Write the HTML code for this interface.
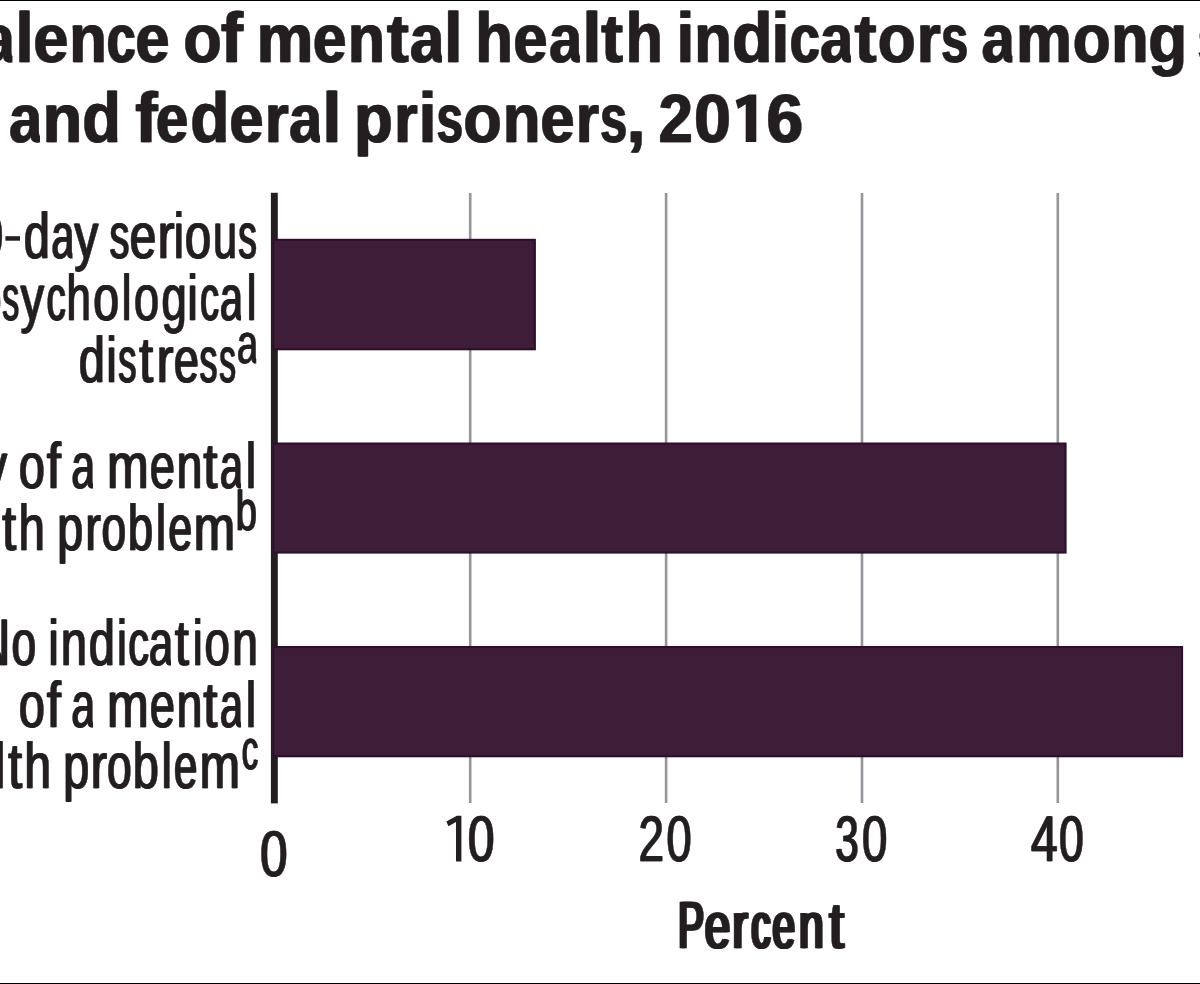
<!DOCTYPE html>
<html><head><meta charset="utf-8"><title>Prevalence of mental health indicators among state and federal prisoners, 2016</title>
<style>
html,body{margin:0;padding:0;background:#fff;overflow:hidden}
body{width:1200px;height:984px;font-family:"Liberation Sans",sans-serif}
svg{display:block;position:absolute;left:0;top:0;will-change:transform}
text{text-rendering:geometricPrecision;font-family:"Liberation Sans",sans-serif;fill:#231f20;stroke:#231f20;stroke-linejoin:round;font-kerning:none;white-space:pre}
.title{font-weight:bold;font-size:68.5px;stroke-width:0.4px}
.lab{font-weight:normal;font-size:64.5px;stroke-width:0.6px}
.tick{font-weight:normal;font-size:64.5px;stroke-width:0.6px}
.pct{font-weight:normal;font-size:65.5px;stroke-width:0.7px}
.sup{font-weight:normal;font-size:56.0px;stroke-width:0.5px}
</style></head>
<body>
<svg width="1200" height="984" viewBox="0 0 1200 984">
<rect x="0" y="0" width="1200" height="984" fill="#fff"/>
<!-- gridlines -->
<g fill="#939598">
<rect x="468.9" y="193" width="2.6" height="610"/>
<rect x="664.8" y="193" width="2.6" height="610"/>
<rect x="860.7" y="193" width="2.6" height="610"/>
<rect x="1056.5" y="193" width="2.6" height="610"/>
</g>
<!-- axis -->
<rect x="270.9" y="192.8" width="6.9" height="610.6" fill="#231f20"/>
<!-- bars -->
<g fill="#2f0e2d">
<rect x="273" y="238.8" width="262.9" height="111.5"/>
<rect x="273" y="442.5" width="793.6" height="111.1"/>
<rect x="273" y="646" width="910.1" height="111.3"/>
</g>
<g fill="#3d1d38">
<rect x="274.2" y="240.9" width="259.6" height="107.3"/>
<rect x="274.2" y="444.6" width="790.3" height="106.9"/>
<rect x="274.2" y="648.1" width="906.8" height="107.1"/>
</g>
<!-- frame lines -->
<rect x="0" y="0" width="1200" height="1" fill="#000"/>
<rect x="0" y="983" width="1200" height="1" fill="#000"/>
<!-- custom numeral 1 glyphs -->
<path d="M756.3,94.4 L756.3,142 L745.7,142 L745.7,104.2 L738,108.9 L735.6,100.3 L749,94.4 Z" fill="#231f20"/>
<path d="M461.4,815.7 L461.4,861.6 L456,861.6 L456,822 L448.4,826.3 L446.4,821.6 L456.9,815.7 Z" fill="#231f20"/>
<rect x="5.4" y="236.2" width="14.6" height="4.5" fill="#231f20"/>
<g>
<defs><clipPath id="ca-title"><rect x="-20" y="-100" width="54.79" height="140"/></clipPath><clipPath id="ca-lab"><rect x="-20" y="-100" width="51.91" height="140"/></clipPath><clipPath id="ca-sup"><rect x="-20" y="-100" width="47.69" height="140"/></clipPath></defs>
<g class="title">
<text clip-path="url(#ca-title)" transform="translate(-19.11,62.30) scale(0.868,1)">a</text>
<text clip-path="url(#ca-title)" transform="translate(-17.71,62.30) scale(0.868,1)">a</text>
<text transform="translate(14.63,62.30) scale(0.960,1.035)">l</text>
<text transform="translate(16.03,62.30) scale(0.960,1.035)">l</text>
<text transform="translate(32.66,62.30) scale(0.919,1)">e</text>
<text transform="translate(34.06,62.30) scale(0.919,1)">e</text>
<text transform="translate(68.69,62.30) scale(0.895,1)">n</text>
<text transform="translate(70.09,62.30) scale(0.895,1)">n</text>
<text transform="translate(106.07,62.30) scale(0.761,1)">c</text>
<text transform="translate(107.47,62.30) scale(0.761,1)">c</text>
<text transform="translate(134.74,62.30) scale(0.889,1)">e</text>
<text transform="translate(136.14,62.30) scale(0.889,1)">e</text>
<text transform="translate(182.67,62.30) scale(0.915,1)">o</text>
<text transform="translate(184.07,62.30) scale(0.915,1)">o</text>
<text transform="translate(220.29,62.30) scale(0.960,1.035)">f</text>
<text transform="translate(221.69,62.30) scale(0.960,1.035)">f</text>
<text transform="translate(256.06,62.30) scale(0.926,1)">m</text>
<text transform="translate(257.46,62.30) scale(0.926,1)">m</text>
<text transform="translate(312.28,62.30) scale(0.874,1)">e</text>
<text transform="translate(313.68,62.30) scale(0.874,1)">e</text>
<text transform="translate(347.26,62.30) scale(0.880,1)">n</text>
<text transform="translate(348.66,62.30) scale(0.880,1)">n</text>
<text transform="translate(386.20,62.30) scale(0.960,1)">t</text>
<text transform="translate(387.60,62.30) scale(0.960,1)">t</text>
<text clip-path="url(#ca-title)" transform="translate(409.33,62.30) scale(0.899,1)">a</text>
<text clip-path="url(#ca-title)" transform="translate(410.73,62.30) scale(0.899,1)">a</text>
<text transform="translate(443.38,62.30) scale(0.960,1.035)">l</text>
<text transform="translate(444.78,62.30) scale(0.960,1.035)">l</text>
<text transform="translate(474.63,62.30) scale(0.897,1.035)">h</text>
<text transform="translate(476.03,62.30) scale(0.897,1.035)">h</text>
<text transform="translate(512.74,62.30) scale(0.889,1)">e</text>
<text transform="translate(514.14,62.30) scale(0.889,1)">e</text>
<text clip-path="url(#ca-title)" transform="translate(548.39,62.30) scale(0.868,1)">a</text>
<text clip-path="url(#ca-title)" transform="translate(549.79,62.30) scale(0.868,1)">a</text>
<text transform="translate(582.01,62.30) scale(0.960,1.035)">l</text>
<text transform="translate(583.41,62.30) scale(0.960,1.035)">l</text>
<text transform="translate(600.45,62.30) scale(0.960,1)">t</text>
<text transform="translate(601.85,62.30) scale(0.960,1)">t</text>
<text transform="translate(624.91,62.30) scale(0.889,1.035)">h</text>
<text transform="translate(626.31,62.30) scale(0.889,1.035)">h</text>
<text transform="translate(675.96,62.30) scale(0.912,1.035)">i</text>
<text transform="translate(677.36,62.30) scale(0.912,1.035)">i</text>
<text transform="translate(693.69,62.30) scale(0.895,1)">n</text>
<text transform="translate(695.09,62.30) scale(0.895,1)">n</text>
<text transform="translate(731.57,62.30) scale(0.960,1.035)">d</text>
<text transform="translate(732.97,62.30) scale(0.960,1.035)">d</text>
<text transform="translate(770.96,62.30) scale(0.912,1.035)">i</text>
<text transform="translate(772.36,62.30) scale(0.912,1.035)">i</text>
<text transform="translate(788.99,62.30) scale(0.791,1)">c</text>
<text transform="translate(790.39,62.30) scale(0.791,1)">c</text>
<text clip-path="url(#ca-title)" transform="translate(819.39,62.30) scale(0.868,1)">a</text>
<text clip-path="url(#ca-title)" transform="translate(820.79,62.30) scale(0.868,1)">a</text>
<text transform="translate(853.95,62.30) scale(0.960,1)">t</text>
<text transform="translate(855.35,62.30) scale(0.960,1)">t</text>
<text transform="translate(877.21,62.30) scale(0.902,1)">o</text>
<text transform="translate(878.61,62.30) scale(0.902,1)">o</text>
<text transform="translate(916.25,62.30) scale(0.883,1)">r</text>
<text transform="translate(917.65,62.30) scale(0.883,1)">r</text>
<text transform="translate(940.44,62.30) scale(0.709,1)">s</text>
<text transform="translate(941.84,62.30) scale(0.709,1)">s</text>
<text clip-path="url(#ca-title)" transform="translate(980.89,62.30) scale(0.868,1)">a</text>
<text clip-path="url(#ca-title)" transform="translate(982.29,62.30) scale(0.868,1)">a</text>
<text transform="translate(1015.62,62.30) scale(0.912,1)">m</text>
<text transform="translate(1017.02,62.30) scale(0.912,1)">m</text>
<text transform="translate(1072.23,62.30) scale(0.895,1)">o</text>
<text transform="translate(1073.63,62.30) scale(0.895,1)">o</text>
<text transform="translate(1110.76,62.30) scale(0.880,1)">n</text>
<text transform="translate(1112.16,62.30) scale(0.880,1)">n</text>
<text transform="translate(1147.65,62.30) scale(0.924,1)">g</text>
<text transform="translate(1149.05,62.30) scale(0.924,1)">g</text>
<text transform="translate(1197.04,62.30) scale(0.709,1)">s</text>
<text transform="translate(1198.44,62.30) scale(0.709,1)">s</text>
<text clip-path="url(#ca-title)" transform="translate(8.39,141.80) scale(0.868,1)">a</text>
<text clip-path="url(#ca-title)" transform="translate(9.79,141.80) scale(0.868,1)">a</text>
<text transform="translate(42.00,141.80) scale(0.940,1)">n</text>
<text transform="translate(43.40,141.80) scale(0.940,1)">n</text>
<text transform="translate(81.67,141.80) scale(0.917,1.035)">d</text>
<text transform="translate(83.07,141.80) scale(0.917,1.035)">d</text>
<text transform="translate(134.79,141.80) scale(0.960,1.035)">f</text>
<text transform="translate(136.19,141.80) scale(0.960,1.035)">f</text>
<text transform="translate(155.36,141.80) scale(0.844,1)">e</text>
<text transform="translate(156.76,141.80) scale(0.844,1)">e</text>
<text transform="translate(189.63,141.80) scale(0.932,1.035)">d</text>
<text transform="translate(191.03,141.80) scale(0.932,1.035)">d</text>
<text transform="translate(228.74,141.80) scale(0.889,1)">e</text>
<text transform="translate(230.14,141.80) scale(0.889,1)">e</text>
<text transform="translate(264.25,141.80) scale(0.883,1)">r</text>
<text transform="translate(265.65,141.80) scale(0.883,1)">r</text>
<text clip-path="url(#ca-title)" transform="translate(288.39,141.80) scale(0.868,1)">a</text>
<text clip-path="url(#ca-title)" transform="translate(289.79,141.80) scale(0.868,1)">a</text>
<text transform="translate(322.01,141.80) scale(0.960,1.035)">l</text>
<text transform="translate(323.41,141.80) scale(0.960,1.035)">l</text>
<text transform="translate(353.60,141.80) scale(0.917,1)">p</text>
<text transform="translate(355.00,141.80) scale(0.917,1)">p</text>
<text transform="translate(393.84,141.80) scale(0.860,1)">r</text>
<text transform="translate(395.24,141.80) scale(0.860,1)">r</text>
<text transform="translate(418.21,141.80) scale(0.912,1.035)">i</text>
<text transform="translate(419.61,141.80) scale(0.912,1.035)">i</text>
<text transform="translate(435.97,141.80) scale(0.694,1)">s</text>
<text transform="translate(437.37,141.80) scale(0.694,1)">s</text>
<text transform="translate(462.67,141.80) scale(0.915,1)">o</text>
<text transform="translate(464.07,141.80) scale(0.915,1)">o</text>
<text transform="translate(502.19,141.80) scale(0.895,1)">n</text>
<text transform="translate(503.59,141.80) scale(0.895,1)">n</text>
<text transform="translate(539.74,141.80) scale(0.889,1)">e</text>
<text transform="translate(541.14,141.80) scale(0.889,1)">e</text>
<text transform="translate(575.34,141.80) scale(0.860,1)">r</text>
<text transform="translate(576.74,141.80) scale(0.860,1)">r</text>
<text transform="translate(599.44,141.80) scale(0.709,1)">s</text>
<text transform="translate(600.84,141.80) scale(0.709,1)">s</text>
<text transform="translate(626.34,141.80) scale(0.960,1)">,</text>
<text transform="translate(627.74,141.80) scale(0.960,1)">,</text>
<text transform="translate(658.05,141.80) scale(0.889,1)">2</text>
<text transform="translate(659.45,141.80) scale(0.889,1)">2</text>
<text transform="translate(693.56,141.80) scale(0.959,1)">0</text>
<text transform="translate(694.96,141.80) scale(0.959,1)">0</text>
<text transform="translate(765.80,141.80) scale(0.960,1)">6</text>
<text transform="translate(767.20,141.80) scale(0.960,1)">6</text>
</g>
<g class="lab">
<text transform="translate(-24.74,257.70) scale(0.762,1)">0</text>
<text transform="translate(-23.54,257.70) scale(0.762,1)">0</text>
<text transform="translate(23.36,257.70) scale(0.719,1)">d</text>
<text transform="translate(24.56,257.70) scale(0.719,1)">d</text>
<text clip-path="url(#ca-lab)" transform="translate(50.83,257.70) scale(0.642,1)">a</text>
<text clip-path="url(#ca-lab)" transform="translate(52.03,257.70) scale(0.642,1)">a</text>
<text transform="translate(73.73,257.70) scale(0.739,1)">y</text>
<text transform="translate(74.93,257.70) scale(0.739,1)">y</text>
<text transform="translate(109.00,257.70) scale(0.612,1)">s</text>
<text transform="translate(110.20,257.70) scale(0.612,1)">s</text>
<text transform="translate(129.06,257.70) scale(0.745,1)">e</text>
<text transform="translate(130.26,257.70) scale(0.745,1)">e</text>
<text transform="translate(157.09,257.70) scale(0.780,1)">r</text>
<text transform="translate(158.29,257.70) scale(0.780,1)">r</text>
<text transform="translate(173.28,257.70) scale(0.687,1)">i</text>
<text transform="translate(174.48,257.70) scale(0.687,1)">i</text>
<text transform="translate(184.34,257.70) scale(0.730,1)">o</text>
<text transform="translate(185.54,257.70) scale(0.730,1)">o</text>
<text transform="translate(212.39,257.70) scale(0.671,1)">u</text>
<text transform="translate(213.59,257.70) scale(0.671,1)">u</text>
<text transform="translate(237.82,257.70) scale(0.569,1)">s</text>
<text transform="translate(239.02,257.70) scale(0.569,1)">s</text>
<text transform="translate(-26.94,319.70) scale(0.780,1)">p</text>
<text transform="translate(-25.74,319.70) scale(0.780,1)">p</text>
<text transform="translate(1.64,319.70) scale(0.525,1)">s</text>
<text transform="translate(2.84,319.70) scale(0.525,1)">s</text>
<text transform="translate(19.98,319.70) scale(0.723,1)">y</text>
<text transform="translate(21.18,319.70) scale(0.723,1)">y</text>
<text transform="translate(45.96,319.70) scale(0.593,1)">c</text>
<text transform="translate(47.16,319.70) scale(0.593,1)">c</text>
<text transform="translate(65.89,319.70) scale(0.679,1)">h</text>
<text transform="translate(67.09,319.70) scale(0.679,1)">h</text>
<text transform="translate(92.87,319.70) scale(0.714,1)">o</text>
<text transform="translate(94.07,319.70) scale(0.714,1)">o</text>
<text transform="translate(121.14,319.70) scale(0.671,1)">l</text>
<text transform="translate(122.34,319.70) scale(0.671,1)">l</text>
<text transform="translate(133.41,319.70) scale(0.698,1)">o</text>
<text transform="translate(134.61,319.70) scale(0.698,1)">o</text>
<text transform="translate(160.90,319.70) scale(0.702,1)">g</text>
<text transform="translate(162.10,319.70) scale(0.702,1)">g</text>
<text transform="translate(187.03,319.70) scale(0.687,1)">i</text>
<text transform="translate(188.23,319.70) scale(0.687,1)">i</text>
<text transform="translate(199.48,319.70) scale(0.584,1)">c</text>
<text transform="translate(200.68,319.70) scale(0.584,1)">c</text>
<text clip-path="url(#ca-lab)" transform="translate(219.33,319.70) scale(0.642,1)">a</text>
<text clip-path="url(#ca-lab)" transform="translate(220.53,319.70) scale(0.642,1)">a</text>
<text transform="translate(246.14,319.70) scale(0.671,1)">l</text>
<text transform="translate(247.34,319.70) scale(0.671,1)">l</text>
<text transform="translate(78.36,381.70) scale(0.719,1)">d</text>
<text transform="translate(79.56,381.70) scale(0.719,1)">d</text>
<text transform="translate(106.03,381.70) scale(0.687,1)">i</text>
<text transform="translate(107.23,381.70) scale(0.687,1)">i</text>
<text transform="translate(117.83,381.70) scale(0.560,1)">s</text>
<text transform="translate(119.03,381.70) scale(0.560,1)">s</text>
<text transform="translate(138.48,381.70) scale(0.780,1)">t</text>
<text transform="translate(139.68,381.70) scale(0.780,1)">t</text>
<text transform="translate(156.09,381.70) scale(0.780,1)">r</text>
<text transform="translate(157.29,381.70) scale(0.780,1)">r</text>
<text transform="translate(173.19,381.70) scale(0.696,1)">e</text>
<text transform="translate(174.39,381.70) scale(0.696,1)">e</text>
<text transform="translate(199.10,381.70) scale(0.551,1)">s</text>
<text transform="translate(200.30,381.70) scale(0.551,1)">s</text>
<text transform="translate(218.66,381.70) scale(0.516,1)">s</text>
<text transform="translate(219.86,381.70) scale(0.516,1)">s</text>
</g>
<g class="sup">
<text clip-path="url(#ca-sup)" transform="translate(236.46,362.55) scale(0.679,1)">a</text>
<text clip-path="url(#ca-sup)" transform="translate(237.46,362.55) scale(0.679,1)">a</text>
</g>
<g class="lab">
<text transform="translate(-17.02,488.45) scale(0.723,1)">y</text>
<text transform="translate(-15.82,488.45) scale(0.723,1)">y</text>
<text transform="translate(18.35,488.45) scale(0.722,1)">o</text>
<text transform="translate(19.55,488.45) scale(0.722,1)">o</text>
<text transform="translate(46.35,488.45) scale(0.780,1)">f</text>
<text transform="translate(47.55,488.45) scale(0.780,1)">f</text>
<text clip-path="url(#ca-lab)" transform="translate(70.79,488.45) scale(0.659,1)">a</text>
<text clip-path="url(#ca-lab)" transform="translate(71.99,488.45) scale(0.659,1)">a</text>
<text transform="translate(106.50,488.45) scale(0.772,1)">m</text>
<text transform="translate(107.70,488.45) scale(0.772,1)">m</text>
<text transform="translate(149.17,488.45) scale(0.704,1)">e</text>
<text transform="translate(150.37,488.45) scale(0.704,1)">e</text>
<text transform="translate(175.96,488.45) scale(0.716,1)">n</text>
<text transform="translate(177.16,488.45) scale(0.716,1)">n</text>
<text transform="translate(202.73,488.45) scale(0.780,1)">t</text>
<text transform="translate(203.93,488.45) scale(0.780,1)">t</text>
<text clip-path="url(#ca-lab)" transform="translate(219.33,488.45) scale(0.642,1)">a</text>
<text clip-path="url(#ca-lab)" transform="translate(220.53,488.45) scale(0.642,1)">a</text>
<text transform="translate(245.23,488.45) scale(0.710,1)">l</text>
<text transform="translate(246.43,488.45) scale(0.710,1)">l</text>
<text transform="translate(1.48,550.45) scale(0.780,1)">t</text>
<text transform="translate(2.68,550.45) scale(0.780,1)">t</text>
<text transform="translate(17.91,550.45) scale(0.733,1)">h</text>
<text transform="translate(19.11,550.45) scale(0.733,1)">h</text>
<text transform="translate(56.70,550.45) scale(0.719,1)">p</text>
<text transform="translate(57.90,550.45) scale(0.719,1)">p</text>
<text transform="translate(84.64,550.45) scale(0.735,1)">r</text>
<text transform="translate(85.84,550.45) scale(0.735,1)">r</text>
<text transform="translate(100.95,550.45) scale(0.682,1)">o</text>
<text transform="translate(102.15,550.45) scale(0.682,1)">o</text>
<text transform="translate(127.27,550.45) scale(0.702,1)">b</text>
<text transform="translate(128.47,550.45) scale(0.702,1)">b</text>
<text transform="translate(155.23,550.45) scale(0.710,1)">l</text>
<text transform="translate(156.43,550.45) scale(0.710,1)">l</text>
<text transform="translate(167.77,550.45) scale(0.664,1)">e</text>
<text transform="translate(168.97,550.45) scale(0.664,1)">e</text>
<text transform="translate(193.00,550.45) scale(0.772,1)">m</text>
<text transform="translate(194.20,550.45) scale(0.772,1)">m</text>
</g>
<g class="sup">
<text transform="translate(235.19,530.25) scale(0.681,1)">b</text>
<text transform="translate(236.19,530.25) scale(0.681,1)">b</text>
</g>
<g class="lab">
<text transform="translate(-26.46,664.70) scale(0.780,1.020)">N</text>
<text transform="translate(-25.26,664.70) scale(0.780,1.020)">N</text>
<text transform="translate(10.95,664.70) scale(0.682,1)">o</text>
<text transform="translate(12.15,664.70) scale(0.682,1)">o</text>
<text transform="translate(48.03,664.70) scale(0.687,1)">i</text>
<text transform="translate(49.23,664.70) scale(0.687,1)">i</text>
<text transform="translate(60.18,664.70) scale(0.725,1)">n</text>
<text transform="translate(61.38,664.70) scale(0.725,1)">n</text>
<text transform="translate(88.36,664.70) scale(0.719,1)">d</text>
<text transform="translate(89.56,664.70) scale(0.719,1)">d</text>
<text transform="translate(116.40,664.70) scale(0.687,1)">i</text>
<text transform="translate(117.60,664.70) scale(0.687,1)">i</text>
<text transform="translate(127.84,664.70) scale(0.637,1)">c</text>
<text transform="translate(129.04,664.70) scale(0.637,1)">c</text>
<text clip-path="url(#ca-lab)" transform="translate(148.24,664.70) scale(0.676,1)">a</text>
<text clip-path="url(#ca-lab)" transform="translate(149.44,664.70) scale(0.676,1)">a</text>
<text transform="translate(174.36,664.70) scale(0.780,1)">t</text>
<text transform="translate(175.56,664.70) scale(0.780,1)">t</text>
<text transform="translate(192.15,664.70) scale(0.687,1)">i</text>
<text transform="translate(193.35,664.70) scale(0.687,1)">i</text>
<text transform="translate(203.89,664.70) scale(0.706,1)">o</text>
<text transform="translate(205.09,664.70) scale(0.706,1)">o</text>
<text transform="translate(231.75,664.70) scale(0.707,1)">n</text>
<text transform="translate(232.95,664.70) scale(0.707,1)">n</text>
<text transform="translate(18.35,726.70) scale(0.722,1)">o</text>
<text transform="translate(19.55,726.70) scale(0.722,1)">o</text>
<text transform="translate(46.35,726.70) scale(0.780,1)">f</text>
<text transform="translate(47.55,726.70) scale(0.780,1)">f</text>
<text clip-path="url(#ca-lab)" transform="translate(70.79,726.70) scale(0.659,1)">a</text>
<text clip-path="url(#ca-lab)" transform="translate(71.99,726.70) scale(0.659,1)">a</text>
<text transform="translate(106.50,726.70) scale(0.772,1)">m</text>
<text transform="translate(107.70,726.70) scale(0.772,1)">m</text>
<text transform="translate(149.17,726.70) scale(0.704,1)">e</text>
<text transform="translate(150.37,726.70) scale(0.704,1)">e</text>
<text transform="translate(175.96,726.70) scale(0.716,1)">n</text>
<text transform="translate(177.16,726.70) scale(0.716,1)">n</text>
<text transform="translate(202.73,726.70) scale(0.780,1)">t</text>
<text transform="translate(203.93,726.70) scale(0.780,1)">t</text>
<text clip-path="url(#ca-lab)" transform="translate(219.33,726.70) scale(0.642,1)">a</text>
<text clip-path="url(#ca-lab)" transform="translate(220.53,726.70) scale(0.642,1)">a</text>
<text transform="translate(245.23,726.70) scale(0.710,1)">l</text>
<text transform="translate(246.43,726.70) scale(0.710,1)">l</text>
<text transform="translate(-5.11,788.45) scale(0.671,1)">l</text>
<text transform="translate(-3.91,788.45) scale(0.671,1)">l</text>
<text transform="translate(7.48,788.45) scale(0.780,1)">t</text>
<text transform="translate(8.68,788.45) scale(0.780,1)">t</text>
<text transform="translate(23.87,788.45) scale(0.742,1)">h</text>
<text transform="translate(25.07,788.45) scale(0.742,1)">h</text>
<text transform="translate(62.70,788.45) scale(0.719,1)">p</text>
<text transform="translate(63.90,788.45) scale(0.719,1)">p</text>
<text transform="translate(90.02,788.45) scale(0.765,1)">r</text>
<text transform="translate(91.22,788.45) scale(0.765,1)">r</text>
<text transform="translate(106.45,788.45) scale(0.682,1)">o</text>
<text transform="translate(107.65,788.45) scale(0.682,1)">o</text>
<text transform="translate(132.20,788.45) scale(0.719,1)">b</text>
<text transform="translate(133.40,788.45) scale(0.719,1)">b</text>
<text transform="translate(160.98,788.45) scale(0.710,1)">l</text>
<text transform="translate(162.18,788.45) scale(0.710,1)">l</text>
<text transform="translate(173.29,788.45) scale(0.655,1)">e</text>
<text transform="translate(174.49,788.45) scale(0.655,1)">e</text>
<text transform="translate(199.08,788.45) scale(0.750,1)">m</text>
<text transform="translate(200.28,788.45) scale(0.750,1)">m</text>
</g>
<g class="sup">
<text transform="translate(241.16,768.95) scale(0.590,1)">c</text>
<text transform="translate(242.16,768.95) scale(0.590,1)">c</text>
</g>
<g class="tick">
<text transform="translate(259.51,876.20) scale(0.762,1)">0</text>
<text transform="translate(260.71,876.20) scale(0.762,1)">0</text>
<text transform="translate(467.31,861.20) scale(0.739,1)">0</text>
<text transform="translate(468.51,861.20) scale(0.739,1)">0</text>
<text transform="translate(637.92,861.20) scale(0.711,1)">2</text>
<text transform="translate(639.12,861.20) scale(0.711,1)">2</text>
<text transform="translate(665.91,861.20) scale(0.698,1)">0</text>
<text transform="translate(667.11,861.20) scale(0.698,1)">0</text>
<text transform="translate(834.77,861.20) scale(0.649,1)">3</text>
<text transform="translate(835.97,861.20) scale(0.649,1)">3</text>
<text transform="translate(861.39,861.20) scale(0.706,1)">0</text>
<text transform="translate(862.59,861.20) scale(0.706,1)">0</text>
<text transform="translate(1030.27,861.20) scale(0.747,1)">4</text>
<text transform="translate(1031.47,861.20) scale(0.747,1)">4</text>
<text transform="translate(1058.45,861.20) scale(0.682,1)">0</text>
<text transform="translate(1059.65,861.20) scale(0.682,1)">0</text>
</g>
<g class="pct">
<text transform="translate(676.65,947.65) scale(0.583,1.020)">P</text>
<text transform="translate(678.35,947.65) scale(0.583,1.020)">P</text>
<text transform="translate(680.05,947.65) scale(0.583,1.020)">P</text>
<text transform="translate(703.20,947.65) scale(0.693,1)">e</text>
<text transform="translate(704.90,947.65) scale(0.693,1)">e</text>
<text transform="translate(706.60,947.65) scale(0.693,1)">e</text>
<text transform="translate(731.10,947.65) scale(0.679,1)">r</text>
<text transform="translate(732.80,947.65) scale(0.679,1)">r</text>
<text transform="translate(734.50,947.65) scale(0.679,1)">r</text>
<text transform="translate(749.76,947.65) scale(0.575,1)">c</text>
<text transform="translate(751.46,947.65) scale(0.575,1)">c</text>
<text transform="translate(753.16,947.65) scale(0.575,1)">c</text>
<text transform="translate(770.91,947.65) scale(0.613,1)">e</text>
<text transform="translate(772.61,947.65) scale(0.613,1)">e</text>
<text transform="translate(774.31,947.65) scale(0.613,1)">e</text>
<text transform="translate(797.38,947.65) scale(0.669,1)">n</text>
<text transform="translate(799.08,947.65) scale(0.669,1)">n</text>
<text transform="translate(800.78,947.65) scale(0.669,1)">n</text>
<text transform="translate(828.08,947.65) scale(0.760,1)">t</text>
<text transform="translate(829.78,947.65) scale(0.760,1)">t</text>
<text transform="translate(831.48,947.65) scale(0.760,1)">t</text>
</g>
</g>
</svg>
</body></html>
